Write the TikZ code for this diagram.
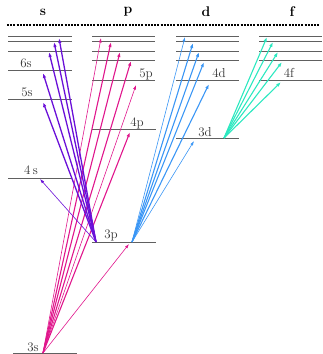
\documentclass[tikz,border=0pt]{standalone}
\usepackage{xcolor}
\usepackage{tikz}
\usetikzlibrary{
arrows.meta
}
\definecolor{sviolet}{HTML}{6A10D8}
\definecolor{pmagenta}{HTML}{E0168C}
\definecolor{dblue}{HTML}{3A96F5}
\definecolor{fteal}{HTML}{2CE8C0}
\definecolor{levelgray}{HTML}{606060}

\begin{document}
\begin{tikzpicture}[
x=1pt,y=-1pt,
level/.style={
levelgray,
line width=0.9pt
},
lbl/.style={
font=\fontsize{13}{15}\selectfont,
text=black!80,
inner sep=0pt
},
head/.style={
font=\fontsize{14}{16}\selectfont\bfseries,
inner sep=0pt
},
trans/.style={-{Latex[length=5pt,width=3.5pt]},line width=1.1pt},
thin trans/.style={-{Latex[length=4.5pt,width=3pt]},line width=0.6pt}
]

\useasboundingbox (0,0) rectangle (322,354);

% headings and ionisation limit
\node[head] (hs) at (43,12) {s};
\node[head] (hp) at (128,12) {p};
\node[head] (hd) at (206,12) {d};
\node[head] (hf) at (292,12) {f};
\draw[line width=1.2pt,dash pattern=on 2pt off 1.2pt] (7,25) -- (320,25);

% high levels
\foreach \y in {36,41,51} {
\draw[level] (8,\y) -- (72,\y);
}
\foreach \x in {92,176,259} {
\foreach \y in {36,41,51,60,80} {
\draw[level] (\x,\y) -- (\x+63,\y);
}
}

% s levels
\draw[level] (8,70) -- (72,70);
\draw[level] (8,99) -- (72,99);
\draw[level] (8,178) -- (72,178);
\draw[level] (13,353) -- (77,353);
% p, d levels
\draw[level] (92,129) -- (156,129);
\draw[level] (92,242) -- (156,242);
\draw[level] (176,138) -- (239,138);

\node[lbl] (l6s) at (26,63) {6s};
\node[lbl] (l5s) at (27,92) {5s};
\node[lbl] (l4s) at (31,170) {4\,s};
\node[lbl] (l3s) at (33,347) {3s};
\node[lbl] (l3p) at (111,235) {3p};
\node[lbl] (l4p) at (137,123) {4p};
\node[lbl] (l5p) at (146,74) {5p};
\node[lbl] (l4d) at (219,73) {4d};
\node[lbl] (l3d) at (205,132) {3d};
\node[lbl] (l4f) at (289,73) {4f};

% origins of the transitions
\coordinate (g3s) at (43,353);
\coordinate (g3pl) at (96,242);
\coordinate (g3pr) at (132,242);
\coordinate (g3d) at (224,138);

% 3s -> np
\coordinate (p3) at (129,244);
\coordinate (p4) at (130,132);
\coordinate (p5) at (136,85);
\coordinate (p6) at (131,61);
\coordinate (p7) at (120,52);
\coordinate (p8) at (111,42);
\coordinate (p9) at (101,38);
\draw[thin trans,pmagenta] (g3s) -- (p3);
\draw[trans,pmagenta] (g3s) -- (p4);
\draw[thin trans,pmagenta] (g3s) -- (p5);
\foreach \t in {p6,p7,p8} {
\draw[trans,pmagenta] (g3s) -- (\t);
}
\draw[thin trans,pmagenta] (g3s) -- (p9);

% 3p -> ns
\coordinate (s4) at (40,179);
\coordinate (s5) at (43,102);
\coordinate (s6) at (43,73);
\coordinate (s7) at (49,52);
\coordinate (s8) at (54,42);
\coordinate (s9) at (59,38);
\draw[thin trans,sviolet] (g3pl) -- (s4);
\foreach \t in {s5,s6,s7,s8,s9} {
\draw[trans,sviolet,line width=1.3pt] (g3pl) -- (\t);
}

% 3p -> nd
\coordinate (d3) at (194,141);
\coordinate (d4) at (209,84);
\coordinate (d5) at (204,62);
\coordinate (d6) at (199,52);
\coordinate (d7) at (193,43);
\coordinate (d8) at (185,37);
\draw[thin trans,dblue] (g3pr) -- (d3);
\foreach \t in {d4,d5,d6,d7} {
\draw[trans,dblue] (g3pr) -- (\t);
}
\draw[thin trans,dblue] (g3pr) -- (d8);

% 3d -> nf
\coordinate (f4) at (281,82);
\coordinate (f5) at (282,62);
\coordinate (f6) at (278,52);
\coordinate (f7) at (273,42);
\coordinate (f8) at (267,37);
\foreach \t in {f4,f5,f6,f7,f8} {
\draw[trans,fteal] (g3d) -- (\t);
}

\end{tikzpicture}
\end{document}
